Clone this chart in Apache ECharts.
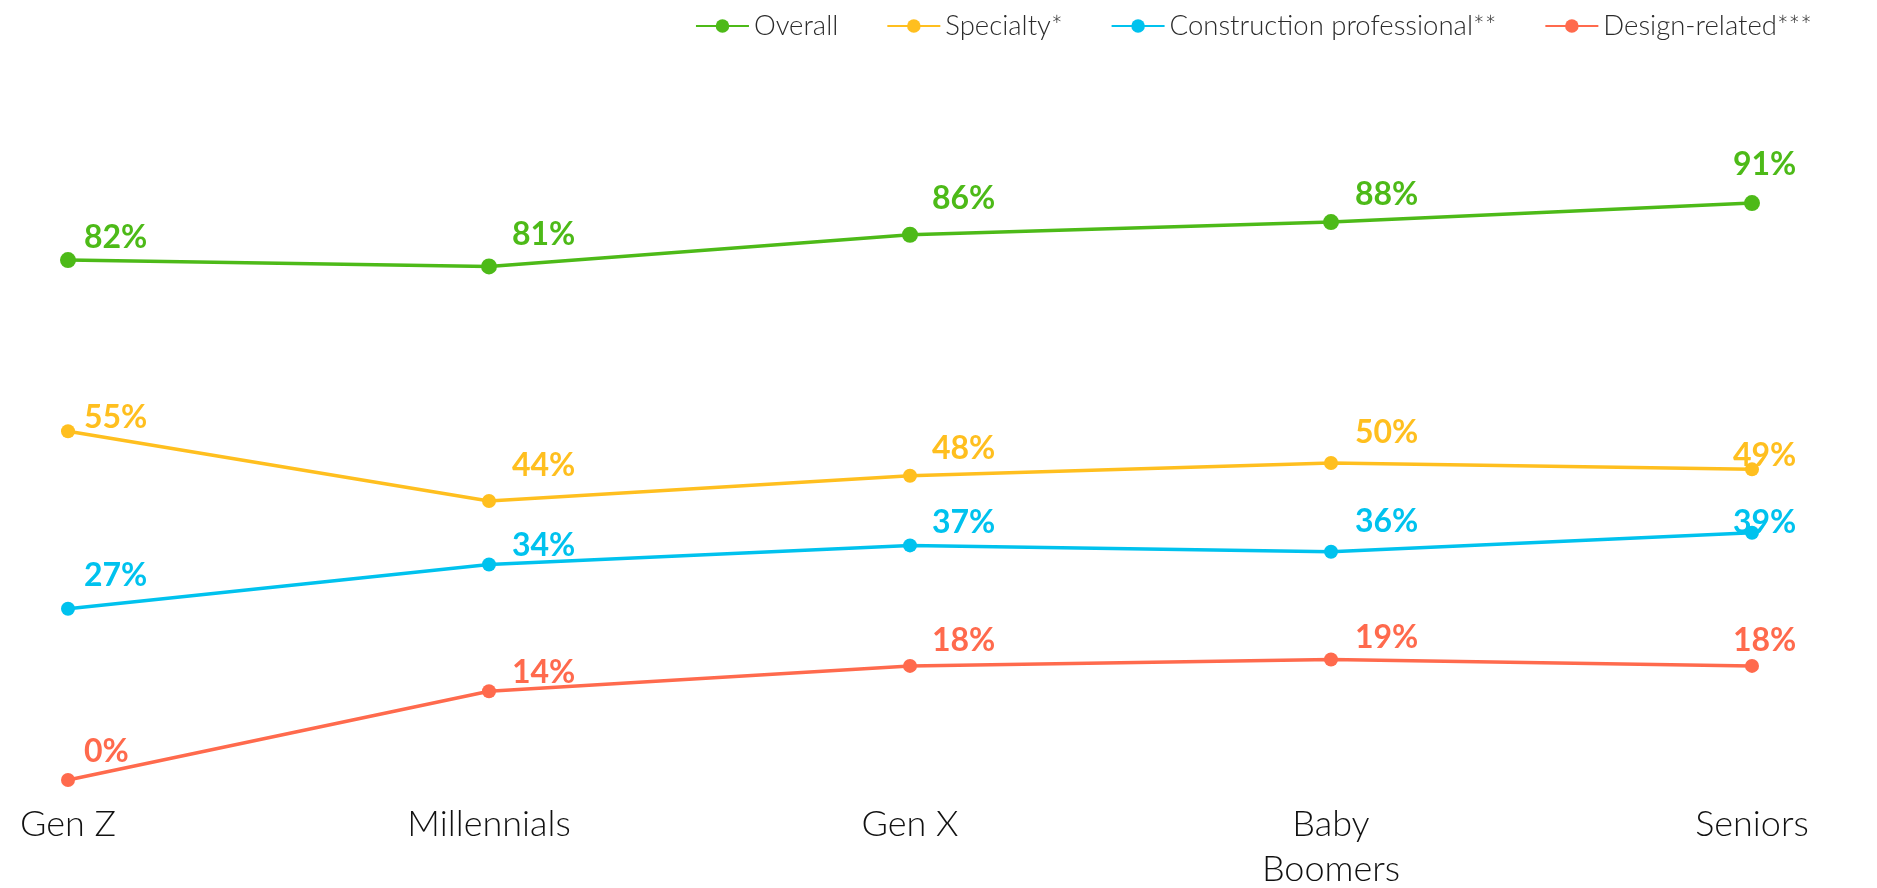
<!DOCTYPE html>
<html lang="en">
<head>
    <meta charset="UTF-8">
    <title>Generations line chart</title>
    <script src="https://cdn.jsdelivr.net/npm/echarts@6.0.0/dist/echarts.min.js"></script>
    <style>
        html, body { margin: 0; padding: 0; background: #ffffff; }
        #main { width: 1877px; height: 888px; }
    </style>
</head>
<body>
    <div id="main"></div>
    <script type="text/javascript">
        // categories and values
        const generations = ['Gen Z', 'Millennials', 'Gen X', 'Baby\nBoomers', 'Seniors'];
        const overall = [82, 81, 86, 88, 91];
        const specialty = [55, 44, 48, 50, 49];
        const constructionPro = [27, 34, 37, 36, 39];
        const designRelated = [0, 14, 18, 19, 18];

        // looks per series: colour, marker size, and how far each label sits above its dot
        const looks = [
            { name: 'Overall', data: overall, color: '#4DBA18', size: 16, lifts: [-22, -32, -36, -27, -38] },
            { name: 'Specialty*', data: specialty, color: '#FFBF1F', size: 14, lifts: [-14, -35, -27, -30, -14] },
            { name: 'Construction professional**', data: constructionPro, color: '#00C2EE', size: 14, lifts: [-33, -19, -23, -30, -10] },
            { name: 'Design-related***', data: designRelated, color: '#FF6A4D', size: 14, lifts: [-28, -19, -25, -22, -25] }
        ];
        // label left edge relative to the dot, per column
        const labelShift = [16, 23, 22, 24, -19];

        const textFont = 'Lato, "Open Sans", sans-serif';

        let series = looks.map(s => ({
            name: s.name,
            type: 'line',
            symbol: 'circle',
            symbolSize: s.size,
            lineStyle: { width: 3.5, color: s.color },
            itemStyle: { color: s.color },
            data: s.data.map((v, i) => ({
                value: v,
                label: { offset: [labelShift[i], s.lifts[i]] }
            })),
            label: {
                show: true,
                position: 'inside',
                align: 'left',
                verticalAlign: 'middle',
                formatter: '{c}%',
                color: s.color,
                fontFamily: textFont,
                fontWeight: 'bold',
                fontSize: 32
            },
            emphasis: { disabled: true },
            animation: false
        }));

        let options = {
            animation: false,
            legend: {
                right: 60,
                top: 7,
                itemWidth: 53,
                itemHeight: 17,
                itemGap: 48,
                textStyle: {
                    fontFamily: textFont,
                    fontWeight: 300,
                    fontSize: 27.5,
                    color: '#2b2b2b'
                },
                data: looks.map(s => s.name)
            },
            grid: {
                left: 68,
                right: 125,
                top: 146,
                bottom: 108,
                outerBoundsMode: 'none'
            },
            xAxis: {
                type: 'category',
                boundaryGap: false,
                data: generations,
                axisLine: { show: false },
                axisTick: { show: false },
                splitLine: { show: false },
                axisLabel: {
                    margin: 22,
                    fontFamily: textFont,
                    fontWeight: 300,
                    fontSize: 36,
                    lineHeight: 45,
                    color: '#111111',
                    verticalAlign: 'top'
                }
            },
            yAxis: {
                type: 'value',
                min: 0,
                max: 100,
                show: false
            },
            series: series
        };

        let myChart = echarts.init(document.getElementById('main'));
        myChart.setOption(options);
    </script>
</body>
</html>
